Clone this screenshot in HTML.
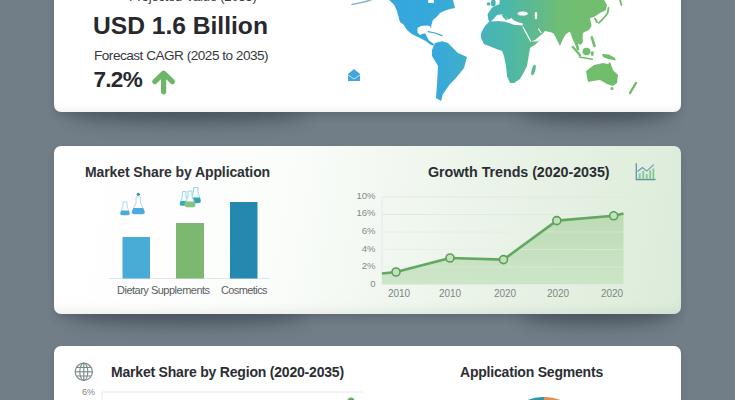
<!DOCTYPE html>
<html><head><meta charset="utf-8">
<style>
*{margin:0;padding:0;box-sizing:border-box}
html,body{width:735px;height:400px;overflow:hidden}
body{background:#717d87;font-family:"Liberation Sans",sans-serif;position:relative;color:#2b2e33}
.card{position:absolute;left:54px;width:627px;border-radius:7px;background:#fff;box-shadow:0 5px 10px -2px rgba(20,28,38,0.22)}
.sh{position:absolute;height:18px;border-radius:50%;background:rgba(30,38,48,0.38);filter:blur(8px)}
#c1{top:-80px;height:192px;box-shadow:inset 0 -8px 10px -7px rgba(60,70,80,0.09),0 5px 10px -2px rgba(20,28,38,0.22)}
#c2{top:145.5px;height:168.5px;box-shadow:inset 0 -10px 12px -8px rgba(60,70,80,0.10),0 5px 10px -2px rgba(20,28,38,0.22);background:linear-gradient(100deg,#ffffff 0%,#fbfdfb 35%,#e9f3e7 70%,#dcecd9 100%)}
#c3{top:346px;height:120px}
.t{position:absolute;white-space:nowrap;line-height:1}
svg{position:absolute;left:0;top:0}
</style></head><body>
<div class="sh" style="left:68px;top:106px;width:240px"></div>
<div class="sh" style="left:520px;top:106px;width:150px"></div>
<div class="sh" style="left:68px;top:308px;width:240px"></div>
<div class="sh" style="left:520px;top:308px;width:150px"></div>
<div class="card" id="c1"></div>
<div class="card" id="c2"></div>
<div class="card" id="c3"></div>

<!-- card1 text -->
<div class="t" style="left:129px;top:-10.5px;font-size:13px;letter-spacing:-0.2px;color:#3a3d42">Projected Value (2035)</div>
<div class="t" style="left:93px;top:13.5px;font-size:24.6px;font-weight:bold;color:#26292e">USD 1.6 Billion</div>
<div class="t" style="left:94px;top:48.5px;font-size:13.6px;letter-spacing:-0.5px;color:#35383c">Forecast CAGR (2025 to 2035)</div>
<div class="t" style="left:93.5px;top:68.5px;font-size:22.5px;letter-spacing:-0.7px;font-weight:bold;color:#26292e">7.2%</div>

<!-- card2 text -->
<div class="t" style="left:85px;top:164.5px;font-size:14px;font-weight:bold;letter-spacing:-0.1px;color:#2e3135">Market Share by Application</div>
<div class="t" style="left:117px;top:285px;font-size:11px;letter-spacing:-0.5px;color:#5a5d61">Dietary Supplements</div>
<div class="t" style="left:221px;top:285px;font-size:11px;letter-spacing:-0.6px;color:#5a5d61">Cosmetics</div>
<div class="t" style="left:428px;top:165px;font-size:14.3px;font-weight:bold;letter-spacing:-0.05px;color:#2b2e33">Growth Trends (2020-2035)</div>


<div class="t" style="left:356.5px;top:190.5px;font-size:9.5px;color:#85888b;width:19px;text-align:right">10%</div>
<div class="t" style="left:356.5px;top:208.3px;font-size:9.5px;color:#85888b;width:19px;text-align:right">16%</div>
<div class="t" style="left:356.5px;top:226px;font-size:9.5px;color:#85888b;width:19px;text-align:right">6%</div>
<div class="t" style="left:356.5px;top:243.8px;font-size:9.5px;color:#85888b;width:19px;text-align:right">4%</div>
<div class="t" style="left:356.5px;top:261.3px;font-size:9.5px;color:#85888b;width:19px;text-align:right">2%</div>
<div class="t" style="left:356.5px;top:279.3px;font-size:9.5px;color:#85888b;width:19px;text-align:right">0</div>
<div class="t" style="left:387px;top:289px;font-size:10px;color:#808386;width:24px;text-align:center">2010</div>
<div class="t" style="left:438px;top:289px;font-size:10px;color:#808386;width:24px;text-align:center">2010</div>
<div class="t" style="left:493px;top:289px;font-size:10px;color:#808386;width:24px;text-align:center">2020</div>
<div class="t" style="left:546px;top:289px;font-size:10px;color:#808386;width:24px;text-align:center">2020</div>
<div class="t" style="left:600px;top:289px;font-size:10px;color:#808386;width:24px;text-align:center">2020</div>
<div class="t" style="left:77px;top:388px;font-size:9px;color:#808285;width:18px;text-align:right">6%</div>
<!-- card3 text -->
<div class="t" style="left:111px;top:365px;font-size:14px;font-weight:bold;letter-spacing:-0.2px;color:#2b2e33">Market Share by Region (2020-2035)</div>
<div class="t" style="left:460px;top:365px;font-size:14px;font-weight:bold;letter-spacing:-0.2px;color:#2b2e33">Application Segments</div>

<svg width="735" height="400" viewBox="0 0 735 400">
  <defs>
    <linearGradient id="mg" gradientUnits="userSpaceOnUse" x1="380" y1="0" x2="640" y2="0">
      <stop offset="0" stop-color="#33a6de"/>
      <stop offset="0.23" stop-color="#37a9da"/>
      <stop offset="0.385" stop-color="#45b2bd"/>
      <stop offset="0.5" stop-color="#4db8a6"/>
      <stop offset="0.615" stop-color="#62ba88"/>
      <stop offset="0.69" stop-color="#70bd76"/>
      <stop offset="0.846" stop-color="#72be6c"/>
      <stop offset="1" stop-color="#6cba64"/>
    </linearGradient>
    <filter id="soft" x="-5%" y="-5%" width="110%" height="110%"><feGaussianBlur stdDeviation="0.35"/></filter>
  </defs>
  <g filter="url(#soft)">
  <g fill="url(#mg)">
    <path d="M389,0 L453,0 L455,8 L450,9 L444,11 L440,13 L437,16.5 L433,20 L431.5,24.6 L431,29 L430,26 L426,25.5 L421,26 L417.5,28 L417.5,32.5 L420,35 L422.7,33.8 L425.4,33.4 L427,37 L429,40.4 L434,44 L434,45.6 L430.6,44.7 L426,41.2 L421,38.6 L415.7,36 L411.4,33.8 L407,30 L403.5,24.6 L400,22 L398,15 L397,11 L394,4.5 Z"/>
    <path d="M435,43 L442,41.2 L448,43 L458,53 L467,57 L464,68 L456,78 L450,84 L443,94 L441,101 L436,98 L437,84 L438,66 L432,56 L432,50 Z"/>
    <path d="M499.5,0 L604,0 L607,5 L606,10 L600,13 L594,17 L590,18 L591,23 L591.5,26 L589,30 L585,31.7 L583,33 L582.5,38 L583,42 L580.5,45 L578,43.5 L579.5,50 L577,50.5 L575,44 L572.5,39 L570.5,33 L569.5,31.7 L566,34 L563,39 L560,46 L557,40 L554,34 L551.6,32.5 L545,31 L542.5,33.75 L535,40 L531,41.5 L537.5,41.5 L541,39 L536,44 L530,48 L528,60 L527,66 L524,72 L520,79 L514,83 L510,83 L507,76 L506,66 L504,56 L502,51 L494,48 L484,44 L481,38 L481.25,32.5 L485,26 L489,21.7 L488.2,18.7 L487.5,14.2 L492,7.5 L496,5.5 L499.5,4 Z"/>
    <ellipse cx="493.3" cy="3" rx="2.4" ry="3.6"/><ellipse cx="488.6" cy="3.9" rx="1.9" ry="1.7"/>
    
    <ellipse cx="533.5" cy="70" rx="1.8" ry="5.5" transform="rotate(15 533.5 70)"/>
    <path d="M602,54 L609,54.5 L615,58 L616,60.5 L608,59 L603,57 Z"/>
    <path d="M586,71 L594,65 L603,63 L608,64 L610,62 L613,70 L618,75 L617,83 L613,86 L607,84 L600,80 L593,81 L588,82 L587,77 Z"/>
    <circle cx="612" cy="88.5" r="1.5"/>
    <ellipse cx="586.5" cy="51.5" rx="4" ry="3.8"/>
    <ellipse cx="592.3" cy="53.5" rx="1.5" ry="2.5"/>
  </g>
  <g stroke="url(#mg)" fill="none" stroke-linecap="round">
    <path d="M598.8,22.8 L603,19 L607.7,13 L608.5,8" stroke-width="1.8"/>
    <path d="M620,0 L621.5,5" stroke-width="1.8"/>
    <path d="M595,18.7 L597,22" stroke-width="2"/>
    <path d="M572.8,47 L576.5,51 L580,55.3" stroke-width="2.4"/>
    <path d="M591.8,37.4 L594.5,46" stroke-width="2.6"/>
    <path d="M579.3,57 L592.3,59.3" stroke-width="1.4"/>
    <path d="M636,83 L633,88 L630,93" stroke-width="2.4"/>
    <path d="M428,31.6 L435,33 L442,35.6" stroke-width="1.2"/>
    <path d="M352,4.5 Q362,2.8 371,0" stroke="#5d9fc0" stroke-width="1.4" opacity="0.75"/>
  </g>
  <g fill="#fff">
    <path d="M493,19.5 L497,15 L502.5,14.2 L505.5,16.5 L508.5,19.5 L511.5,18 L513.7,20.2 L519,22.5 L522.7,23.2 L522.7,25.5 L513.7,24.7 L510,23.2 L504.7,21.7 L498.7,21 L491,21.5 Z"/>
    <ellipse cx="522.7" cy="13.5" rx="5" ry="2"/>
    <ellipse cx="536" cy="15.6" rx="1.3" ry="3.8"/>
    <rect x="428" y="0" width="6" height="3" rx="1"/>
    <ellipse cx="498" cy="1.5" rx="1.5" ry="2"/>
  </g>
  <path d="M501.5,14.5 L504.5,14.8 L507.8,19.3 L506.2,20.3 L503,17.2 Z" fill="url(#mg)"/>
  <g stroke="#fff" fill="none" stroke-linecap="round">
    <path d="M523,27 L530.5,41" stroke-width="1.3"/>
    <path d="M538.5,29 L541,32.5" stroke-width="1.2"/>
  </g>
  </g>
  <!-- envelope -->
  <path d="M348,74 L354,69 L360,74 L360,81 L348,81 Z" fill="#42a6dc"/>
  <path d="M348,75 L354,79 L360,75" stroke="#bfe3f5" stroke-width="1" fill="none"/>

  <!-- arrow -->
  <path d="M163.6 91.8 V78 M154.8 81.6 L163.6 73.2 L172.4 81.6" stroke="#6cb66a" stroke-width="5.2" fill="none" stroke-linecap="round" stroke-linejoin="round"/>
  <!-- bars -->
  <line x1="109" y1="278.5" x2="270" y2="278.5" stroke="#e3e5e6" stroke-width="1"/>
  <rect x="122.5" y="237" width="27.5" height="41.5" fill="#49acd6"/>
  <rect x="176" y="223" width="28" height="55.5" fill="#7cb870"/>
  <rect x="230" y="202" width="27.5" height="76.5" fill="#2588ae"/>

  <!-- flasks group 1 -->
  <g stroke-linejoin="round">
    <path d="M123,202 L127,202 L127,206 L129.5,213 Q130,215 128,215 L122,215 Q120,215 120.5,213 L123,206 Z" fill="#fff" stroke="#9fd0e6" stroke-width="0.8"/>
    <path d="M121.2,210.5 L128.8,210.5 L129.5,213 Q130,215 128,215 L122,215 Q120,215 120.5,213 Z" fill="#4aaadd"/>
    <path d="M136,197 L140.5,197 L140.5,203 L144.5,211.5 Q145,214 142.5,214 L134,214 Q131.5,214 132,211.5 L136,203 Z" fill="#fff" stroke="#9fd0e6" stroke-width="0.8"/>
    <path d="M133.3,208 L143.2,208 L144.5,211.5 Q145,214 142.5,214 L134,214 Q131.5,214 132,211.5 Z" fill="#4aaadd"/>
    <circle cx="138.3" cy="194.3" r="1.6" fill="#3b8db0"/>
  </g>
  <!-- flasks group 2 -->
  <g stroke-linejoin="round">
    <path d="M193.5,187.5 L198,187.5 L198,192 L200.5,200 Q201,203 198.5,203 L192.5,203 Q190,203 190.5,200 L193.5,192 Z" fill="#f4fbfd" stroke="#8ccfd9" stroke-width="0.8"/>
    <path d="M191.3,197.5 L199.7,197.5 L200.5,200 Q201,203 198.5,203 L192.5,203 Q190,203 190.5,200 Z" fill="#38a2b3"/>
    <path d="M182.5,191.5 L186,191.5 L186,196 L188.5,203 Q189,205.5 187,205.5 L181.5,205.5 Q179.5,205.5 180,203 L182.5,196 Z" fill="#f4fbfd" stroke="#8ccfd9" stroke-width="0.8"/>
    <path d="M180.8,201 L187.3,201 L188.5,203 Q189,205.5 187,205.5 L181.5,205.5 Q179.5,205.5 180,203 Z" fill="#3aa7b6"/>
    <path d="M188,191 L192,191 L192,196 L195,204 Q195.5,207 193,207 L187,207 Q184.5,207 185,204 L188,196 Z" fill="#f4fbfd" stroke="#8ccfd9" stroke-width="0.8"/>
    <path d="M185.8,201.5 L194.2,201.5 L195,204 Q195.5,207 193,207 L187,207 Q184.5,207 185,204 Z" fill="#86c277"/>
  </g>
  <!-- growth chart -->
  <g stroke="#e2e8e2" stroke-width="1">
    <line x1="382" y1="197" x2="627" y2="197"/>
    <line x1="382" y1="214.5" x2="627" y2="214.5"/>
    <line x1="382" y1="232" x2="627" y2="232"/>
    <line x1="382" y1="249.5" x2="627" y2="249.5"/>
    <line x1="382" y1="267" x2="627" y2="267"/>
    <line x1="382" y1="284.5" x2="627" y2="284.5"/>
    <line x1="382" y1="197" x2="382" y2="285"/>
  </g>
  <defs><linearGradient id="fg" x1="0" y1="0" x2="0" y2="1"><stop offset="0" stop-color="#b5d8ad"/><stop offset="1" stop-color="#c8e3c2"/></linearGradient></defs>
  <path d="M382,273.5 L396,272 L450,258 L503.5,259.6 L556.8,220.6 L613.7,215.8 L623.5,213.5 L623.5,284 L382,284 Z" fill="url(#fg)" opacity="0.85"/>
  <g stroke="#ffffff" stroke-opacity="0.28" stroke-width="1">
    <line x1="382" y1="232" x2="623" y2="232"/>
    <line x1="382" y1="249.5" x2="623" y2="249.5"/>
    <line x1="382" y1="267" x2="623" y2="267"/>
  </g>
  <path d="M382,273.5 L396,272 L450,258 L503.5,259.6 L556.8,220.6 L613.7,215.8 L623.5,213.5" fill="none" stroke="#62a862" stroke-width="2.6" stroke-linejoin="round"/>
  <g fill="#c3e2bc" stroke="#5b9f5c" stroke-width="1.6">
    <circle cx="396" cy="272" r="4"/>
    <circle cx="450" cy="258" r="4"/>
    <circle cx="503.5" cy="259.6" r="4"/>
    <circle cx="556.8" cy="220.6" r="4"/>
    <circle cx="613.7" cy="215.8" r="4"/>
  </g>
  <!-- chart icon -->
  <g fill="none" stroke="#5a97a4" stroke-width="1.3">
    <path d="M636.3,163.3 L636.3,179.5 L655.6,179.5"/>
    <path d="M637.6,171.6 L642.4,167.7 L646.8,171.2 L653.8,164.6"/>
  </g>
  <path d="M637.6,172 L642.4,168 L646.8,171.5 L653.8,165 L653.8,179 L637.6,179 Z" fill="#cfe9ec" opacity="0.6"/>
  <g fill="#8cc885">
    <rect x="638.8" y="173.5" width="1.8" height="5.5"/>
    <rect x="642.3" y="171" width="1.8" height="8"/>
    <rect x="645.8" y="174" width="1.8" height="5"/>
    <rect x="649.3" y="170.5" width="1.8" height="8.5"/>
    <rect x="652.5" y="168.5" width="1.8" height="10.5"/>
  </g>
  <!-- card3 -->
  <g fill="none" stroke="#788888" stroke-width="1.15">
    <circle cx="83.8" cy="371.8" r="8.6"/>
    <ellipse cx="83.8" cy="371.8" rx="4" ry="8.6"/>
    <line x1="83.8" y1="363.2" x2="83.8" y2="380.4"/>
    <line x1="75.2" y1="371.8" x2="92.4" y2="371.8"/>
    <path d="M76.5,367.5 L91,367.5 M76.5,376 L91,376"/>
  </g>
  <line x1="102" y1="392" x2="363" y2="392" stroke="#e6e8e8" stroke-width="1"/>
  <line x1="102" y1="392" x2="102" y2="400" stroke="#e6e8e8" stroke-width="1"/>
  <circle cx="351" cy="401" r="3.5" fill="#5fae5f"/>
  <g fill="none" stroke-width="9">
    <path d="M544,401.5 A31,31 0 0 0 530,404" stroke="#2a98a8"/>
    <path d="M544,401.5 A31,31 0 0 1 558,404" stroke="#e09157"/>
  </g>
</svg>
</body></html>
